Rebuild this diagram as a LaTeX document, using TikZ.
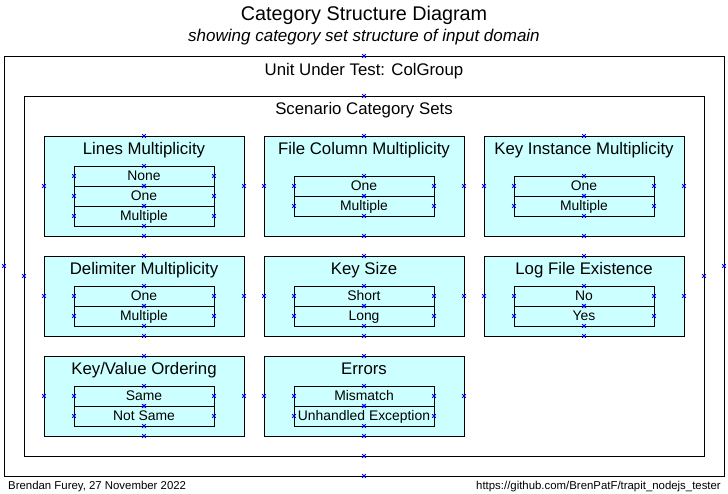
\documentclass[tikz,border=0pt]{standalone}
\usepackage{fontspec}
\setmainfont{Liberation Sans}
\usetikzlibrary{calc}
\definecolor{boxcyan}{HTML}{CCFFFF}
\definecolor{portblue}{HTML}{0000FF}
\tikzset{
  frame/.style={draw=black, line width=1pt, inner sep=0pt, outer sep=0pt},
  catbox/.style={frame, fill=boxcyan, minimum width=200pt},
  rowbox/.style={frame, fill=boxcyan, minimum width=140pt, minimum height=20pt,
    font=\fontsize{13.9}{15}\selectfont, text height=10pt, text depth=1.5pt},
  boxtitle/.style={anchor=base, inner sep=0pt, font=\fontsize{16.8}{18}\selectfont},
  pics/port/.style={code={\draw[portblue, line width=0.8pt]
    (-1.8pt,-1.8pt) -- (1.8pt,1.8pt) (-1.8pt,1.8pt) -- (1.8pt,-1.8pt);}},
}
\newcommand\portsof[1]{%
  \pic at (#1.north) {port}; \pic at (#1.south) {port};
  \pic at (#1.west) {port}; \pic at (#1.east) {port};}
\newcommand\catset[5]{% name, cx, cy, height, title
  \node[catbox, minimum height=#4pt] (#1) at (#2,#3) {};
  \node[boxtitle] (#1-t) at ($(#1.north)+(0,18)$) {#5};}
\begin{document}
\begin{tikzpicture}[x=1pt, y=-1pt]
\useasboundingbox (0,0) rectangle (728,493);
\fill[white] (0,0) rectangle (728,493);
% titles
\node[anchor=base, inner sep=0pt, font=\fontsize{19.8}{22}\selectfont] (title) at (364,20) {Category Structure Diagram};
\node[anchor=base, inner sep=0pt, font=\fontsize{17}{19}\selectfont\itshape] (subtitle) at (364,41) {showing category set structure of input domain};
% outer frames
\node[frame, minimum width=720pt, minimum height=420pt] (uut) at (364,266) {};
\node[boxtitle] (uut-t) at ($(uut.north)+(0,19)$) {Unit Under Test: ColGroup};
\node[frame, minimum width=680pt, minimum height=360pt] (scen) at (364,276) {};
\node[boxtitle] (scen-t) at ($(scen.north)+(0,18)$) {Scenario Category Sets};
% row 1
\catset{lines}{144}{186}{100}{Lines Multiplicity}
\node[rowbox] (lines-1) at (144,176) {None};
\node[rowbox] (lines-2) at (144,196) {One};
\node[rowbox] (lines-3) at (144,216) {Multiple};
\catset{filecol}{364}{186}{100}{File Column Multiplicity}
\node[rowbox] (filecol-1) at (364,186) {One};
\node[rowbox] (filecol-2) at (364,206) {Multiple};
\catset{keyinst}{584}{186}{100}{Key Instance Multiplicity}
\node[rowbox] (keyinst-1) at (584,186) {One};
\node[rowbox] (keyinst-2) at (584,206) {Multiple};
% row 2
\catset{delim}{144}{296}{80}{Delimiter Multiplicity}
\node[rowbox] (delim-1) at (144,296) {One};
\node[rowbox] (delim-2) at (144,316) {Multiple};
\catset{keysize}{364}{296}{80}{Key Size}
\node[rowbox] (keysize-1) at (364,296) {Short};
\node[rowbox] (keysize-2) at (364,316) {Long};
\catset{logfile}{584}{296}{80}{Log File Existence}
\node[rowbox] (logfile-1) at (584,296) {No};
\node[rowbox] (logfile-2) at (584,316) {Yes};
% row 3
\catset{keyval}{144}{396}{80}{Key/Value Ordering}
\node[rowbox] (keyval-1) at (144,396) {Same};
\node[rowbox] (keyval-2) at (144,416) {Not Same};
\catset{errors}{364}{396}{80}{Errors}
\node[rowbox] (errors-1) at (364,396) {Mismatch};
\node[rowbox] (errors-2) at (364,416) {Unhandled Exception};
% ports
\foreach \n in {uut, scen, lines, lines-1, lines-2, lines-3, filecol, filecol-1, filecol-2,
  keyinst, keyinst-1, keyinst-2, delim, delim-1, delim-2, keysize, keysize-1, keysize-2,
  logfile, logfile-1, logfile-2, keyval, keyval-1, keyval-2, errors, errors-1, errors-2}
  {\portsof{\n}}
% footer
\node[anchor=base west, inner sep=0pt, font=\fontsize{11.4}{13}\selectfont] (author) at (8,489) {Brendan Furey, 27 November 2022};
\node[anchor=base east, inner sep=0pt, font=\fontsize{11.4}{13}\selectfont] (url) at (721,489) {https://github.com/BrenPatF/trapit\_nodejs\_tester};
\end{tikzpicture}
\end{document}
